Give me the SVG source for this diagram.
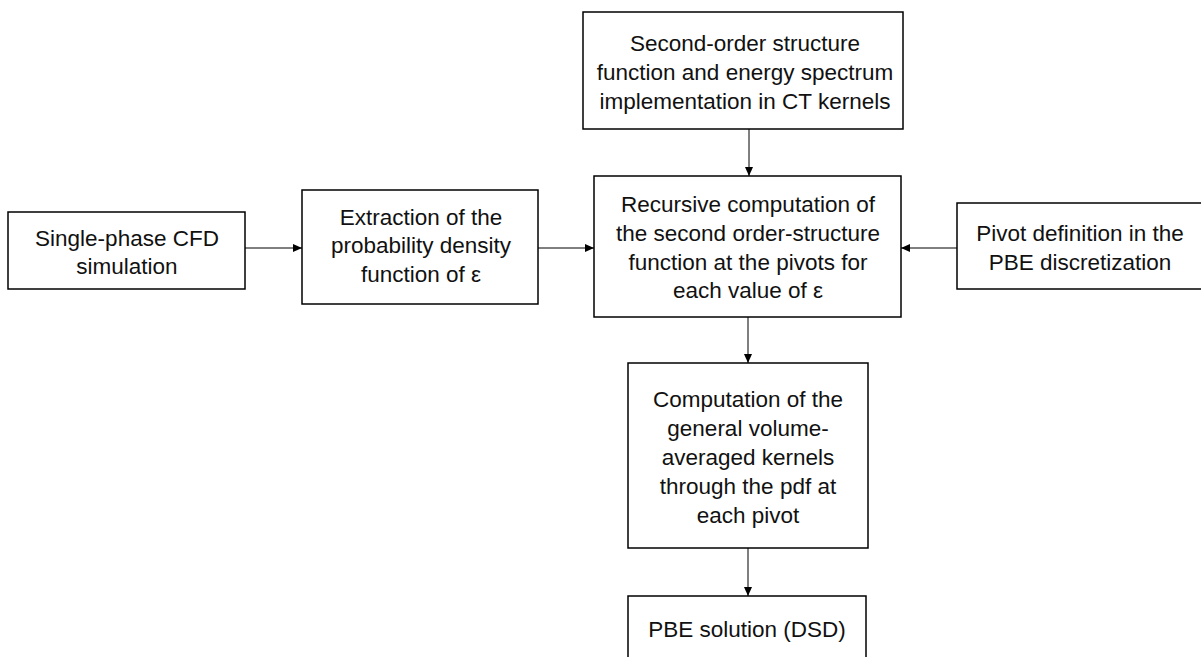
<svg xmlns="http://www.w3.org/2000/svg" width="1201" height="657" viewBox="0 0 1201 657">
<style>
.box{fill:#fff;stroke:#000;stroke-width:1.5}
.t{font-family:"Liberation Sans",Arial,sans-serif;font-size:22.5px;fill:#111;text-anchor:middle}
.c{stroke:#000;stroke-width:1;fill:none;marker-end:url(#ah)}
</style>
<defs>
<marker id="ah" viewBox="0 0 9 8" refX="9" refY="4" markerWidth="9" markerHeight="8" markerUnits="userSpaceOnUse" orient="auto">
<path d="M0,0 L9,4 L0,8 z" fill="#000"/>
</marker>
</defs>
<rect width="1201" height="657" fill="#fff"/>
<g id="connectors">
<line class="c" x1="245" y1="248" x2="302" y2="248"/>
<line class="c" x1="538" y1="248" x2="594" y2="248"/>
<line class="c" x1="749" y1="129" x2="749" y2="176"/>
<line class="c" x1="957" y1="248" x2="901" y2="248"/>
<line class="c" x1="748" y1="317" x2="748" y2="363"/>
<line class="c" x1="748" y1="548" x2="748" y2="596"/>
</g>
<g id="n-cfd">
<rect class="box" x="8" y="212" width="237" height="77"/>
<text class="t" x="127" y="246">Single-phase CFD</text>
<text class="t" x="127" y="274">simulation</text>
</g>
<g id="n-pdf">
<rect class="box" x="302" y="190" width="236" height="114"/>
<text class="t" x="421" y="225">Extraction of the</text>
<text class="t" x="421" y="253">probability density</text>
<text class="t" x="421" y="282">function of ε</text>
</g>
<g id="n-sf">
<rect class="box" x="583" y="12" width="320" height="117"/>
<text class="t" x="745" y="51">Second-order structure</text>
<text class="t" x="745" y="80">function and energy spectrum</text>
<text class="t" x="745" y="109">implementation in CT kernels</text>
</g>
<g id="n-rec">
<rect class="box" x="594" y="176" width="307" height="141"/>
<text class="t" x="748" y="212">Recursive computation of</text>
<text class="t" x="748" y="241">the second order-structure</text>
<text class="t" x="748" y="270">function at the pivots for</text>
<text class="t" x="748" y="298">each value of ε</text>
</g>
<g id="n-pivot">
<rect class="box" x="957" y="203" width="260" height="86"/>
<text class="t" x="1080" y="241">Pivot definition in the</text>
<text class="t" x="1080" y="270">PBE discretization</text>
</g>
<g id="n-kern">
<rect class="box" x="628" y="363" width="240" height="185"/>
<text class="t" x="748" y="407">Computation of the</text>
<text class="t" x="748" y="436">general volume-</text>
<text class="t" x="748" y="465">averaged kernels</text>
<text class="t" x="748" y="494">through the pdf at</text>
<text class="t" x="748" y="523">each pivot</text>
</g>
<g id="n-pbe">
<rect class="box" x="628" y="596" width="238" height="70"/>
<text class="t" x="747" y="637">PBE solution (DSD)</text>
</g>
</svg>
